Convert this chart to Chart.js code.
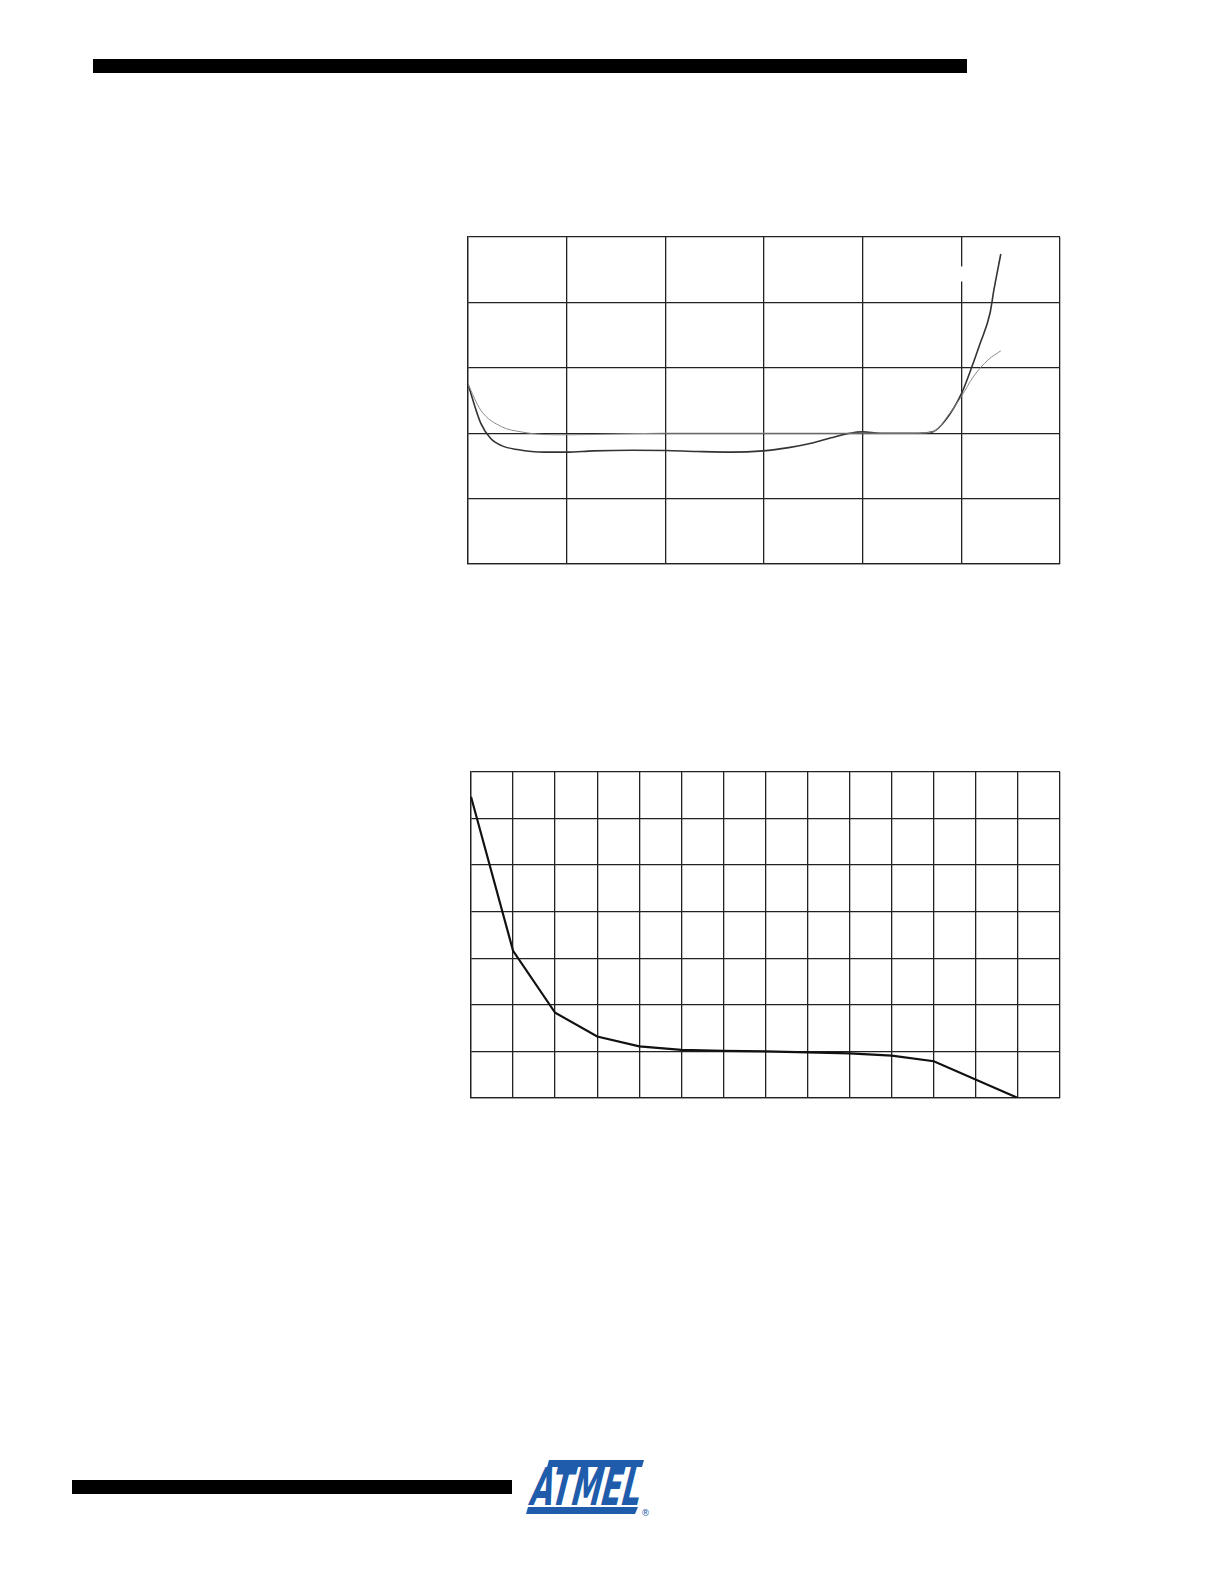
<!DOCTYPE html>
<html>
<head>
<meta charset="utf-8">
<script src="https://cdn.jsdelivr.net/npm/chart.js@4.4.0/dist/chart.umd.min.js"></script>
<style>
  html, body { margin: 0; padding: 0; background: #fff; }
  body { width: 1224px; height: 1584px; position: relative; overflow: hidden; font-family: "Liberation Sans", Arial, sans-serif; }
  .bar { position: absolute; background: #000; }
  .plot { position: absolute; }
  #logo { position: absolute; left: 522px; top: 1456px; }
</style>
</head>
<body>
<div class="bar" style="left:93px; top:59px; width:874px; height:14px;"></div>
<div class="bar" style="left:72px; top:1480px; width:440px; height:14px;"></div>

<div class="plot" style="left:463px; top:232px; width:602px; height:337px;"><canvas id="upperChart"></canvas></div>
<div class="plot" style="left:466px; top:767px; width:599px; height:336px;"><canvas id="lowerChart"></canvas></div>

<svg id="logo" width="130" height="64" viewBox="0 0 130 64">
  <polygon points="27,4 122,4 120,11 25,11" fill="#1f5cab"/>
  <text x="6" y="49" font-family="DejaVu Sans Condensed, DejaVu Sans" font-weight="bold" font-size="52" fill="#1f5cab"
        textLength="110" lengthAdjust="spacingAndGlyphs" transform="skewX(-14) translate(12,0)">ATMEL</text>
  <polygon points="6,51 116,51 113,58 4,58" fill="#1f5cab"/>
  <text x="119" y="60" font-family="DejaVu Sans" font-size="9" fill="#1f5cab">®</text>
</svg>

<script>
// upper chart: two curves, x in grid columns (0..6), y in grid rows (0..5)
const upperX = [0, 0.13, 0.23, 0.34, 0.5, 0.77, 1.0, 1.27, 1.66, 2.0, 2.32, 2.67, 2.99, 3.25, 3.49, 3.68, 3.87, 4.0, 4.18, 4.57, 4.71, 4.84, 5.0, 5.12, 5.19, 5.29, 5.33, 5.4];
const upperDark = [2.75, 2.15, 1.92, 1.81, 1.75, 1.71, 1.71, 1.73, 1.74, 1.735, 1.72, 1.71, 1.73, 1.78, 1.85, 1.93, 2.0, 2.02, 2.0, 2.0, 2.02, 2.2, 2.6, 3.07, 3.37, 3.83, 4.19, 4.74];

const lightX = [0, 0.13, 0.34, 0.54, 0.77, 1.0, 1.27, 2.0, 3.0, 4.0, 4.5, 4.71, 4.88, 5.0, 5.12, 5.27, 5.4];
const upperLight = [2.75, 2.35, 2.1, 2.02, 1.98, 1.975, 1.98, 2.0, 2.0, 2.0, 2.0, 2.02, 2.3, 2.56, 2.86, 3.12, 3.26];

// lower chart: one line, x in grid columns (0..14), y in grid rows (0..7)
const lowerX = [0, 1, 2, 3, 4, 5, 6, 7, 8, 9, 10, 11, 13];
const lowerY = [6.47, 3.16, 1.83, 1.32, 1.11, 1.035, 1.01, 1.0, 0.98, 0.96, 0.91, 0.79, 0.0];

const gridColor = '#222';

function toPoints(xs, ys) {
    return xs.map((x, i) => ({ x: x, y: ys[i] }));
}

function gridScale(max) {
    return {
        type: 'linear',
        min: 0,
        max: max,
        ticks: { display: false, stepSize: 1 },
        grid: { color: gridColor, lineWidth: 1.3, drawTicks: false },
        border: { display: true, color: gridColor, width: 1.3 }
    };
}

// the reference has a small white gap in one vertical grid line
const gapPlugin = {
    id: 'gap',
    afterDraw(chart) {
        if (chart.canvas.id !== 'upperChart') return;
        const xs = chart.scales.x, ys = chart.scales.y;
        const ctx = chart.ctx;
        ctx.save();
        ctx.fillStyle = '#fff';
        ctx.fillRect(xs.getPixelForValue(5) - 2, ys.getPixelForValue(4.55), 4, ys.getPixelForValue(4.32) - ys.getPixelForValue(4.55));
        ctx.restore();
    }
};

function makeChart(id, datasets, xMax, yMax) {
    return new Chart(document.getElementById(id).getContext('2d'), {
        type: 'line',
        data: { datasets: datasets },
        options: {
            responsive: true,
            maintainAspectRatio: false,
            animation: false,
            layout: { padding: 5 },
            plugins: { legend: { display: false }, tooltip: { enabled: false } },
            elements: { point: { radius: 0 } },
            scales: { x: gridScale(xMax), y: gridScale(yMax) }
        },
        plugins: [gapPlugin]
    });
}

makeChart('upperChart', [
    {
        data: toPoints(lightX, upperLight),
        borderColor: '#8a8a8a',
        borderWidth: 1,
        cubicInterpolationMode: 'monotone'
    },
    {
        data: toPoints(upperX, upperDark),
        borderColor: '#333',
        borderWidth: 1.6,
        cubicInterpolationMode: 'monotone'
    }
], 6, 5);

makeChart('lowerChart', [
    {
        data: toPoints(lowerX, lowerY),
        borderColor: '#111',
        borderWidth: 2.2,
        tension: 0
    }
], 14, 7);
</script>
</body>
</html>
